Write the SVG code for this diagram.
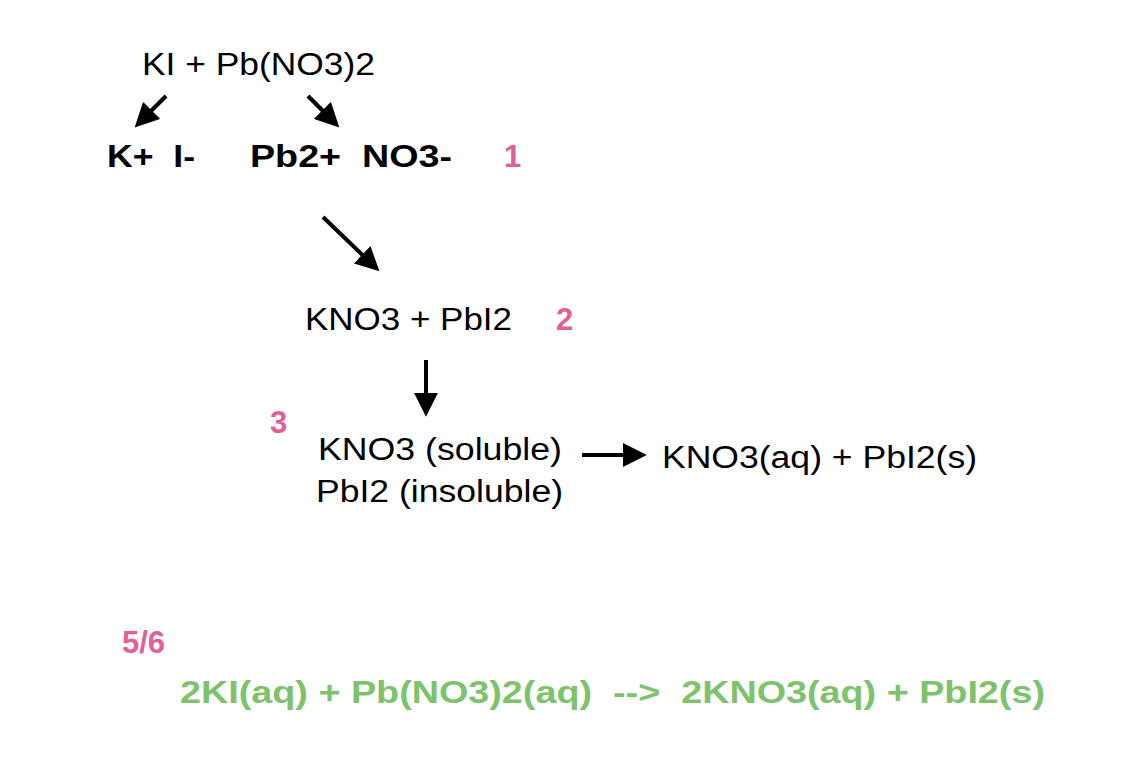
<svg xmlns="http://www.w3.org/2000/svg" width="1138" height="776" viewBox="0 0 1138 776">
<style>
.t{font-family:"Liberation Sans",Arial,sans-serif;font-size:31px;fill:#000}
.b{font-weight:bold}
.p{font-family:"Liberation Sans",Arial,sans-serif;font-size:31px;font-weight:bold;fill:#e0609a}
.g{font-family:"Liberation Sans",Arial,sans-serif;font-size:31px;font-weight:bold;fill:#7dc36b}
.c{stroke:#000;stroke-width:4;fill:none;marker-end:url(#ah)}
</style>
<defs><marker id="ah" viewBox="0 0 10 10" refX="8" refY="5" markerWidth="6" markerHeight="6" orient="auto" markerUnits="strokeWidth"><path d="M0,0 L10,5 L0,10 z" fill="#000"/></marker></defs>
<rect width="1138" height="776" fill="#fff"/>
<g id="reactants"><text class="t" x="142" y="75" textLength="233" lengthAdjust="spacingAndGlyphs">KI + Pb(NO3)2</text></g>
<g id="ions1"><text class="t b" x="107" y="167" xml:space="preserve" textLength="88" lengthAdjust="spacingAndGlyphs">K+  I-</text></g>
<g id="ions2"><text class="t b" x="250" y="167" xml:space="preserve" textLength="202" lengthAdjust="spacingAndGlyphs">Pb2+  NO3-</text></g>
<g id="step1"><text class="p" x="504" y="167">1</text></g>
<g id="products"><text class="t" x="305" y="330" textLength="207" lengthAdjust="spacingAndGlyphs">KNO3 + PbI2</text></g>
<g id="step2"><text class="p" x="556" y="330">2</text></g>
<g id="step3"><text class="p" x="270" y="433">3</text></g>
<g id="solubility"><text class="t" x="318" y="460" textLength="244" lengthAdjust="spacingAndGlyphs">KNO3 (soluble)</text><text class="t" x="316" y="502" textLength="247" lengthAdjust="spacingAndGlyphs">PbI2 (insoluble)</text></g>
<g id="states"><text class="t" x="662" y="468" textLength="315" lengthAdjust="spacingAndGlyphs">KNO3(aq) + PbI2(s)</text></g>
<g id="step56"><text class="p" x="122" y="653">5/6</text></g>
<g id="equation"><text class="g" x="180" y="703" xml:space="preserve" textLength="865" lengthAdjust="spacingAndGlyphs">2KI(aq) + Pb(NO3)2(aq)  --&gt;  2KNO3(aq) + PbI2(s)</text></g>
<g id="connectors">
<line class="c" x1="166" y1="96" x2="138" y2="124"/>
<line class="c" x1="308" y1="96" x2="336" y2="124"/>
<line class="c" x1="323" y1="217" x2="376" y2="268"/>
<line class="c" x1="426" y1="360" x2="426" y2="412"/>
<line class="c" x1="582" y1="455" x2="642" y2="455"/>
</g>
</svg>
